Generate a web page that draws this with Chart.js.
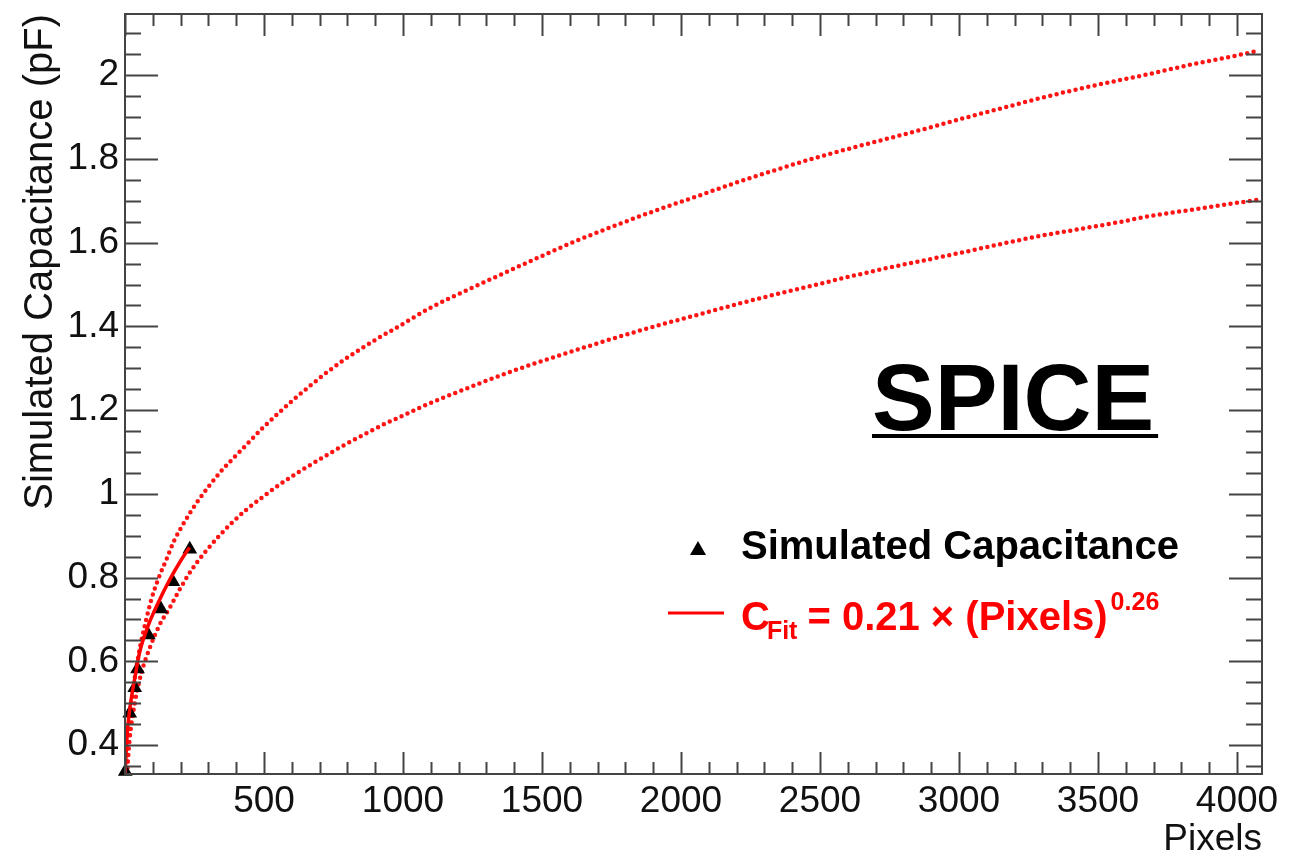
<!DOCTYPE html>
<html>
<head>
<meta charset="utf-8">
<script src="https://cdn.jsdelivr.net/npm/chart.js@4"></script>
<style>
  html, body { margin: 0; background: #fff; }
  #chart { display: block; }
</style>
</head>
<body>
<canvas id="chart" width="1294" height="858"></canvas>
<script>
const FONT = '"Liberation Sans", Arial, Helvetica, sans-serif';

// simulated points (black triangles)
const simPixels = [1, 17, 35, 45, 84, 129, 172, 233];
const simCap = [0.337, 0.476, 0.537, 0.582, 0.663, 0.725, 0.790, 0.868];

// power-law fit over the simulated range
const fitPixels = [0.5, 5, 10, 20, 34, 52, 82, 118, 160, 202, 232];
const fitCap = [0.330, 0.396, 0.444, 0.500, 0.555, 0.620, 0.683, 0.738, 0.794, 0.842, 0.872];

// dotted curves, upper and lower
const upperPixels = [6, 14, 30, 50, 76, 94, 118, 148, 178, 214, 256, 343, 400, 448, 496, 554, 610, 671, 730, 788,
  848, 911, 977, 1035, 1103, 1229, 1366, 1499, 1630, 1768, 1906, 2068, 2206, 2338, 2476, 2614, 2746, 2885,
  3016, 3154, 3286, 3424, 3556, 3694, 3826, 3964, 4076];
const upperCap = [0.330, 0.430, 0.535, 0.620, 0.699, 0.746, 0.794, 0.842, 0.890, 0.933, 0.977, 1.052, 1.092, 1.125,
  1.158, 1.194, 1.227, 1.261, 1.292, 1.320, 1.346, 1.372, 1.397, 1.420, 1.446, 1.486, 1.528, 1.568, 1.606,
  1.642, 1.676, 1.713, 1.745, 1.773, 1.801, 1.826, 1.849, 1.873, 1.897, 1.921, 1.944, 1.966, 1.985, 2.004,
  2.024, 2.042, 2.058];

const lowerPixels = [7, 16, 35, 60, 89, 125, 160, 197, 239, 287, 334, 377, 436, 496, 556, 617, 676, 737, 803, 869,
  931, 1003, 1071, 1139, 1276, 1409, 1546, 1678, 1816, 1949, 2074, 2212, 2344, 2476, 2614, 2746, 2885, 3022,
  3160, 3292, 3430, 3568, 3700, 3832, 3970, 4070];
const lowerCap = [0.330, 0.410, 0.500, 0.575, 0.632, 0.688, 0.727, 0.772, 0.818, 0.860, 0.896, 0.926, 0.962, 0.993,
  1.022, 1.049, 1.073, 1.097, 1.122, 1.145, 1.166, 1.188, 1.209, 1.228, 1.264, 1.297, 1.327, 1.355, 1.383,
  1.408, 1.430, 1.455, 1.477, 1.498, 1.520, 1.540, 1.559, 1.578, 1.598, 1.616, 1.632, 1.648, 1.665, 1.678,
  1.692, 1.702];

const xTickValues = [500, 1000, 1500, 2000, 2500, 3000, 3500, 4000];
const xTickLabels = ['500', '1000', '1500', '2000', '2500', '3000', '3500', '4000'];
const yTickValues = [0.4, 0.6, 0.8, 1.0, 1.2, 1.4, 1.6, 1.8, 2.0];
const yTickLabels = ['0.4', '0.6', '0.8', '1', '1.2', '1.4', '1.6', '1.8', '2'];

function pts(xs, ys) {
  return xs.map((x, i) => ({ x: x, y: ys[i] }));
}

// frame with inward ticks on all four sides
const frameTicks = {
  id: 'frameTicks',
  afterDraw(chart) {
    const { ctx, chartArea: a, scales: { x, y } } = chart;
    ctx.save();
    ctx.strokeStyle = '#444';
    ctx.lineWidth = 2;
    ctx.strokeRect(a.left, a.top, a.right - a.left, a.bottom - a.top);
    ctx.beginPath();
    for (let v = 0; v <= x.max; v += 100) {
      const px = Math.round(x.getPixelForValue(v)) + 0.5;
      const len = v % 500 === 0 ? 22 : 12;
      ctx.moveTo(px, a.bottom); ctx.lineTo(px, a.bottom - len);
      ctx.moveTo(px, a.top); ctx.lineTo(px, a.top + len);
    }
    for (let k = 7; k <= 42; k++) {
      const v = k / 20;
      if (v < y.min || v > y.max) continue;
      const py = Math.round(y.getPixelForValue(v)) + 0.5;
      const len = k % 4 === 0 ? 33 : 16;
      ctx.moveTo(a.left, py); ctx.lineTo(a.left + len, py);
      ctx.moveTo(a.right, py); ctx.lineTo(a.right - len, py);
    }
    ctx.stroke();
    ctx.restore();
  }
};

// SPICE tag and the in-plot legend
const annotations = {
  id: 'annotations',
  afterDraw(chart) {
    const ctx = chart.ctx;
    ctx.save();
    ctx.textBaseline = 'alphabetic';
    ctx.textAlign = 'left';

    ctx.fillStyle = '#000';
    ctx.font = 'bold 94px ' + FONT;
    ctx.fillText('SPICE', 872, 430);
    ctx.fillRect(872, 434, ctx.measureText('SPICE').width + 4, 4);

    // triangle entry
    ctx.beginPath();
    ctx.moveTo(698, 541);
    ctx.lineTo(706, 555);
    ctx.lineTo(690, 555);
    ctx.closePath();
    ctx.fill();
    ctx.font = 'bold 40px ' + FONT;
    ctx.fillText('Simulated Capacitance', 741, 559);

    // fit entry
    ctx.strokeStyle = '#ff0000';
    ctx.lineWidth = 3;
    ctx.beginPath();
    ctx.moveTo(668, 613);
    ctx.lineTo(724, 613);
    ctx.stroke();

    ctx.fillStyle = '#ff0000';
    let tx = 741;
    ctx.font = 'bold 40px ' + FONT;
    ctx.fillText('C', tx, 630);
    tx += ctx.measureText('C').width - 3;
    ctx.font = 'bold 25px ' + FONT;
    ctx.fillText('Fit', tx, 639);
    tx += ctx.measureText('Fit').width + 10;
    ctx.font = 'bold 40px ' + FONT;
    ctx.fillText('= 0.21 \u00d7 (Pixels)', tx, 630);
    tx += ctx.measureText('= 0.21 \u00d7 (Pixels)').width + 3;
    ctx.font = 'bold 25px ' + FONT;
    ctx.fillText('0.26', tx, 610);
    ctx.restore();
  }
};

const dotted = {
  showLine: true,
  borderColor: '#ff1414',
  borderWidth: 4.5,
  borderDash: [0, 6.5],
  borderCapStyle: 'round',
  pointRadius: 0,
  cubicInterpolationMode: 'monotone',
  fill: false
};

new Chart(document.getElementById('chart').getContext('2d'), {
  type: 'scatter',
  data: {
    datasets: [
      {
        label: 'Fit',
        data: pts(fitPixels, fitCap),
        showLine: true,
        borderColor: '#ff0000',
        borderWidth: 3.5,
        pointRadius: 0,
        cubicInterpolationMode: 'monotone'
      },
      {
        label: 'Simulated Capacitance',
        data: pts(simPixels, simCap),
        showLine: false,
        pointStyle: 'triangle',
        pointRadius: 8.5,
        backgroundColor: '#000',
        borderColor: '#000',
        borderWidth: 0,
        clip: false
      },
      Object.assign({ label: 'upper', data: pts(upperPixels, upperCap) }, dotted),
      Object.assign({ label: 'lower', data: pts(lowerPixels, lowerCap) }, dotted)
    ]
  },
  options: {
    responsive: false,
    devicePixelRatio: 1,
    animation: false,
    events: [],
    layout: { padding: { left: 0, top: 14, right: 32, bottom: 0 } },
    plugins: { legend: { display: false }, tooltip: { enabled: false } },
    scales: {
      x: {
        type: 'linear',
        min: 0,
        max: 4090,
        grid: { display: false, drawTicks: false },
        border: { display: false },
        afterFit: (s) => { s.height = 84; },
        afterBuildTicks: (s) => { s.ticks = xTickValues.map(v => ({ value: v })); },
        ticks: {
          color: '#111',
          font: { family: FONT, size: 37 },
          padding: 6,
          maxRotation: 0,
          autoSkip: false,
          callback: (v) => xTickLabels[xTickValues.indexOf(v)]
        },
        title: {
          display: true,
          text: 'Pixels',
          align: 'end',
          color: '#111',
          font: { family: FONT, size: 37, lineHeight: 1 },
          padding: { top: 0, bottom: 0 }
        }
      },
      y: {
        type: 'linear',
        min: 0.331,
        max: 2.146,
        grid: { display: false, drawTicks: false },
        border: { display: false },
        afterFit: (s) => { s.width = 125; s.paddingTop = 0; s.paddingBottom = 0; },
        afterBuildTicks: (s) => { s.ticks = yTickValues.map(v => ({ value: v })); },
        ticks: {
          color: '#111',
          font: { family: FONT, size: 37 },
          padding: 6,
          autoSkip: false,
          callback: (v) => yTickLabels[yTickValues.indexOf(v)]
        },
        title: {
          display: true,
          text: 'Simulated Capacitance (pF)',
          align: 'end',
          color: '#111',
          font: { family: FONT, size: 40 },
          padding: { top: 17, bottom: 0 }
        }
      }
    }
  },
  plugins: [frameTicks, annotations]
});
</script>
</body>
</html>
